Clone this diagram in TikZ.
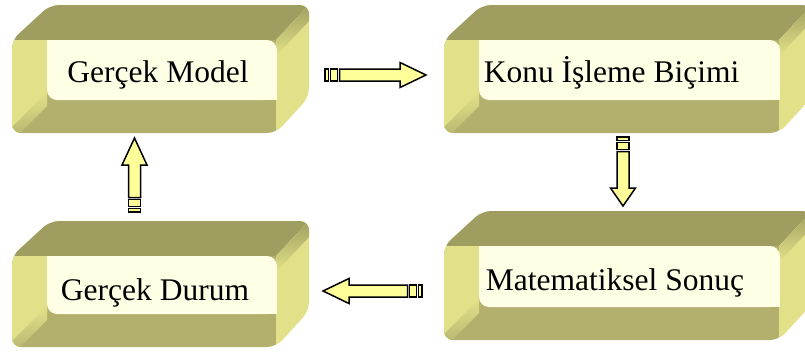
\documentclass[tikz,border=0pt]{standalone}
\usepackage{fontspec}
\setmainfont{Liberation Serif}
\definecolor{olivetop}{HTML}{9F9D5F}
\definecolor{olivefront}{HTML}{B2B06C}
\definecolor{lightface}{HTML}{E2E189}
\definecolor{creamface}{HTML}{FFFFE6}
\definecolor{arrowfill}{HTML}{FFFF99}

% A bevelled slab: #1,#2 = top-left, #3,#4 = bottom-right, #5 = name
\newcommand\slab[5]{%
  \begin{scope}
    \clip[rounded corners=9] (#1,#2+35) -- (#1+38,#2) -- (#3,#2) -- (#3,#4-36)
      -- (#3-33,#4) -- (#1,#4) -- cycle;
    % front face
    \fill[olivefront] (#1-2,#2+30) rectangle (#3-33,#4+2);
    % top face
    \fill[olivetop] (#1-2,#2+35) -- (#1-2,#2-2) -- (#3+2,#2-2) -- (#3-33,#2+35) -- cycle;
    % right face with a soft edge along the upper diagonal
    \fill[lightface] (#3-33,#2+35) -- (#3+2,#2-2) -- (#3+2,#4+2) -- (#3-33,#4+2) -- cycle;
    \shade[shading angle=45, top color=olivetop, bottom color=lightface]
      (#3-33,#2+35) -- (#3+2,#2-2) -- (#3+2,#2+14) -- (#3-33,#2+51) -- cycle;
    % left bevel, blending into the bottom along the mitre
    \fill[lightface] (#1-2,#2+35) -- (#1+35,#2+35) -- (#1+35,#4-35) -- (#1-2,#4+2) -- cycle;
    \shade[shading angle=45, top color=lightface, bottom color=olivefront]
      (#1-2,#4-4) -- (#1+35,#4-41) -- (#1+35,#4-27) -- (#1-2,#4+10) -- cycle;
    % front panel
    \fill[creamface, rounded corners=10] (#1+35,#2+35) rectangle (#3-32,#4-33);
    \fill[creamface] (#1+35,#2+35) rectangle (#1+47,#2+47);
    \fill[creamface] (#3-44,#4-45) rectangle (#3-32,#4-33);
  \end{scope}
  \coordinate (#5) at ({(#1+#3-32)/2},{(#2+#4)/2});
}

% A striped block arrow: #1,#2 = tail, #3 = direction, #4 = length, #5 = head length
\newcommand\stripedarrow[5]{%
  \begin{scope}[shift={(#1,#2)}, rotate=#3]
    \draw[blockarrow] (0,-6) rectangle (3.5,6);
    \draw[blockarrow] (5.5,-6) rectangle (12.5,6);
    \draw[blockarrow] (14.5,-6) -- (#4-#5,-6) -- (#4-#5,-12.5) -- (#4,0)
      -- (#4-#5,12.5) -- (#4-#5,6) -- (14.5,6) -- cycle;
  \end{scope}
}

\begin{document}
\begin{tikzpicture}[x=1pt,y=-1pt,
  blockarrow/.style={fill=arrowfill, draw=black, line width=1.5pt, line join=miter},
  label/.style={anchor=base, inner sep=0pt, font=\fontsize{31.5}{38}\selectfont}]
\useasboundingbox (0,0) rectangle (805,351);
\clip (0,0) rectangle (805,351);

\slab{12}{5}{309}{133}{model}
\slab{444}{5}{812}{133}{konu}
\slab{444}{211}{812}{340}{sonuc}
\slab{12}{221}{309}{347}{durum}

\node[label] (tmodel) at (158,82) {Gerçek Model};
\node[label] (tkonu) at (611.5,82) {Konu İşleme Biçimi};
\node[label] (tsonuc) at (615,290) {Matematiksel Sonuç};
\node[label] (tdurum) at (155,300) {Gerçek Durum};

% model -> konu, konu -> sonuc, sonuc -> durum, durum -> model
\stripedarrow{325}{75}{0}{101}{26}
\stripedarrow{623}{137}{-90}{69}{18}
\stripedarrow{422}{291}{180}{99}{26}
\stripedarrow{134.5}{212}{90}{74}{27}
\end{tikzpicture}
\end{document}
